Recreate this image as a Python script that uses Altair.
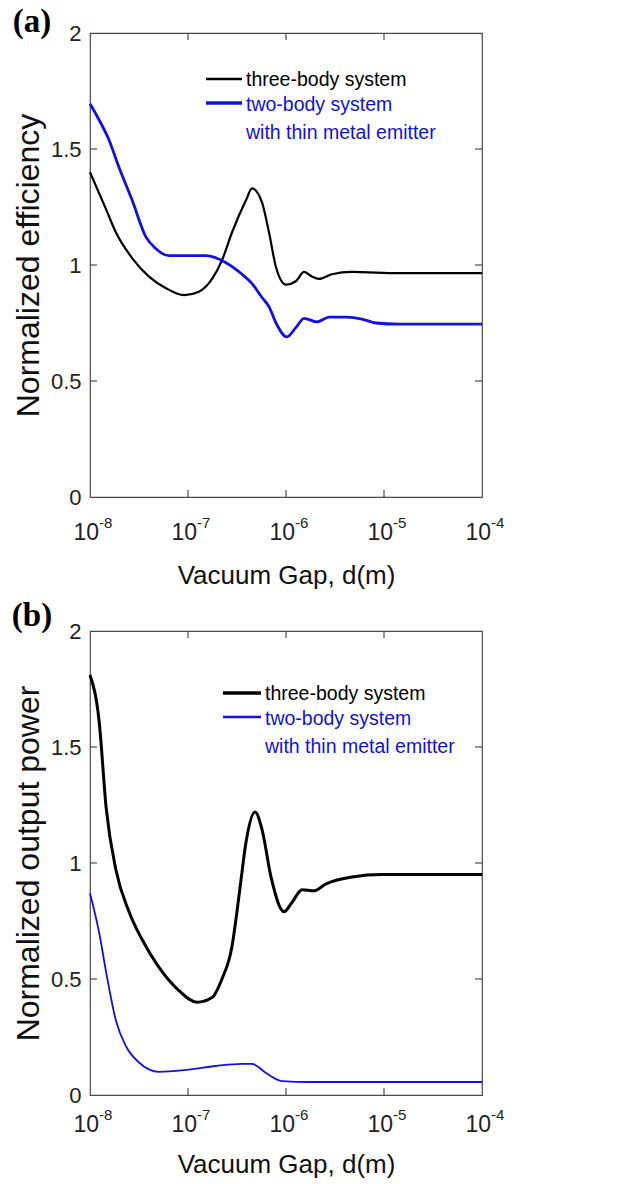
import altair as alt
import pandas as pd

# ---------------- data ----------------
# (a) normalized efficiency
gap_three_a = [1.0e-8, 1.46e-8, 1.84e-8, 2.69e-8, 4.0e-8, 5.97e-8, 9.1e-8, 1.29e-7,
               1.76e-7, 2.22e-7, 2.81e-7, 3.91e-7, 4.5e-7, 5.69e-7, 6.71e-7, 7.91e-7,
               1.0e-6, 1.26e-6, 1.53e-6, 1.84e-6, 2.17e-6, 2.94e-6, 4.71e-6, 1.42e-5, 1.0e-4]
eff_three_a = [1.40, 1.24, 1.14, 1.03, 0.95, 0.90, 0.87, 0.885,
               0.94, 1.02, 1.14, 1.28, 1.33, 1.27, 1.14, 0.99,
               0.915, 0.93, 0.97, 0.95, 0.94, 0.96, 0.97, 0.965, 0.965]

gap_two_a = [1.0e-8, 1.24e-8, 1.56e-8, 1.98e-8, 2.69e-8, 3.73e-8, 4.71e-8, 6.4e-8,
             1.53e-7, 2.44e-7, 3.56e-7, 4.5e-7, 5.69e-7, 6.71e-7, 7.91e-7, 1.02e-6,
             1.26e-6, 1.53e-6, 2.07e-6, 2.75e-6, 4.09e-6, 5.97e-6, 8.28e-6, 1.42e-5, 1.0e-4]
eff_two_a = [1.695, 1.625, 1.54, 1.42, 1.28, 1.12, 1.07, 1.04,
             1.04, 1.01, 0.96, 0.92, 0.86, 0.82, 0.75, 0.69,
             0.73, 0.77, 0.755, 0.775, 0.775, 0.767, 0.75, 0.745, 0.745]

# (b) normalized output power
gap_three_b = [1.0e-8, 1.24e-8, 1.46e-8, 1.84e-8, 2.5e-8, 3.4e-8, 5.06e-8, 8.09e-8,
               1.24e-7, 1.76e-7, 2.22e-7, 2.81e-7, 3.16e-7, 3.48e-7, 3.91e-7, 4.83e-7,
               5.69e-7, 7.03e-7, 9.55e-7, 1.15e-6, 1.46e-6, 1.93e-6, 2.56e-6, 4.71e-6,
               9.55e-6, 1.0e-4]
pow_three_b = [1.81, 1.61, 1.24, 0.97, 0.79, 0.67, 0.55, 0.45,
               0.40, 0.42, 0.50, 0.64, 0.79, 0.93, 1.09, 1.22,
               1.145, 0.94, 0.79, 0.83, 0.885, 0.88, 0.91, 0.94,
               0.95, 0.95]

gap_two_b = [1.0e-8, 1.24e-8, 1.46e-8, 1.84e-8, 2.33e-8, 3.16e-8, 5.06e-8, 9.55e-8,
             1.93e-7, 3.56e-7, 4.5e-7, 6.25e-7, 9.1e-7, 1.72e-6, 1.0e-4]
pow_two_b = [0.87, 0.70, 0.53, 0.32, 0.21, 0.14, 0.10, 0.108,
             0.125, 0.134, 0.134, 0.095, 0.06, 0.056, 0.056]

x_tick_values = [1e-8, 1e-7, 1e-6, 1e-5, 1e-4]
x_tick_base = ["10", "10", "10", "10", "10"]
x_tick_exp = ["-8", "-7", "-6", "-5", "-4"]
x_inner_ticks = [1e-7, 1e-6, 1e-5]
y_tick_values = [0, 0.5, 1, 1.5, 2]
y_inner_ticks = [0.5, 1, 1.5]

legend_labels = ["three-body system", "two-body system", "with thin metal emitter"]

# ---------------- style ----------------
W, H = 392, 464
FONT = "Liberation Sans"
SERIF = "Liberation Serif"
BLUE = "#1212e0"
FRAME = "#4a4a4a"

xscale = alt.Scale(type="log", domain=[1e-8, 1e-4], nice=False)
yscale = alt.Scale(domain=[0, 2], nice=False, zero=False)


def panel(gk, vk, gb, vb, ytitle, tag, tag_dy, wk, wb, xtitle_pad,
          base_dy, leg_x0, leg_y0, leg_w):
    dk = pd.DataFrame({"gap": gk, "val": vk})
    db = pd.DataFrame({"gap": gb, "val": vb})

    xaxis = alt.Axis(title="Vacuum Gap, d(m)", labels=False, ticks=False, domain=False,
                     grid=False, titleFont=FONT, titleFontSize=26, titleFontWeight="normal",
                     titleColor="#111", titlePadding=xtitle_pad, titleBaseline="alphabetic")
    yaxis = alt.Axis(title=ytitle, values=y_tick_values, format="~g", ticks=False,
                     domain=False, grid=False, labelFont=FONT, labelFontSize=22,
                     labelColor="#222", labelPadding=9, titleFont=FONT, titleFontSize=32,
                     titleFontWeight="normal", titleColor="#111", titlePadding=12,
                     titleBaseline="alphabetic")
    X = lambda: alt.X("gap:Q", scale=xscale, axis=xaxis)
    Y = lambda: alt.Y("val:Q", scale=yscale, axis=yaxis)

    black = alt.Chart(dk).mark_line(color="black", strokeWidth=wk, interpolate="monotone").encode(
        x=X(), y=Y())
    blue = alt.Chart(db).mark_line(color=BLUE, strokeWidth=wb, interpolate="monotone").encode(
        x=X(), y=Y())

    xt = pd.DataFrame({"gap": x_inner_ticks})
    yt = pd.DataFrame({"val": y_inner_ticks})
    tick_style = dict(color=FRAME, strokeWidth=1.2)
    xt_top = alt.Chart(xt).mark_rule(**tick_style).encode(
        x=X(), y=alt.value(0), y2=alt.value(7))
    xt_bot = alt.Chart(xt).mark_rule(**tick_style).encode(
        x=X(), y=alt.value(H), y2=alt.value(H - 7))
    yt_left = alt.Chart(yt).mark_rule(**tick_style).encode(
        y=Y(), x=alt.value(0), x2=alt.value(7))
    yt_right = alt.Chart(yt).mark_rule(**tick_style).encode(
        y=Y(), x=alt.value(W), x2=alt.value(W - 7))

    lab = pd.DataFrame({"gap": x_tick_values, "base": x_tick_base, "exp": x_tick_exp})
    lab_base = alt.Chart(lab).mark_text(font=FONT, fontSize=23, align="right", dx=9,
                                        baseline="alphabetic", color="#222").encode(
        x=X(), y=alt.value(H + base_dy), text="base:N")
    lab_exp = alt.Chart(lab).mark_text(font=FONT, fontSize=15, align="left", dx=9,
                                       baseline="alphabetic", color="#222").encode(
        x=X(), y=alt.value(H + base_dy - 12), text="exp:N")

    tag_text = alt.Chart(pd.DataFrame({"t": [tag]})).mark_text(
        font=SERIF, fontSize=33, fontWeight="bold", align="center", baseline="alphabetic",
        color="black").encode(x=alt.value(-58), y=alt.value(tag_dy), text="t:N")

    # legend
    ly = [leg_y0, leg_y0 + 25, leg_y0 + 53]
    leg_line_k = alt.Chart(pd.DataFrame({"k": [0]})).mark_rule(color="black", strokeWidth=wk + 0.5).encode(
        x=alt.value(leg_x0), x2=alt.value(leg_x0 + leg_w), y=alt.value(ly[0] - 1), y2=alt.value(ly[0] - 1))
    leg_line_b = alt.Chart(pd.DataFrame({"k": [0]})).mark_rule(color=BLUE, strokeWidth=wb + 0.5).encode(
        x=alt.value(leg_x0), x2=alt.value(leg_x0 + leg_w), y=alt.value(ly[1] - 2), y2=alt.value(ly[1] - 2))
    tx = leg_x0 + leg_w + 4
    leg_t = []
    for i, (lbl, col) in enumerate(zip(legend_labels, ["black", BLUE, BLUE])):
        leg_t.append(alt.Chart(pd.DataFrame({"t": [lbl]})).mark_text(
            font=FONT, fontSize=19.5, align="left", baseline="middle", color=col).encode(
            x=alt.value(tx), y=alt.value(ly[i]), text="t:N"))

    return alt.layer(black, blue, xt_top, xt_bot, yt_left, yt_right, lab_base, lab_exp,
                     tag_text, leg_line_k, leg_line_b, *leg_t).properties(width=W, height=H)


pa = panel(gap_three_a, eff_three_a, gap_two_a, eff_two_a, "Normalized efficiency",
           "(a)", -1, 2.2, 2.8, 86, 43, 116, 47, 36)
pb = panel(gap_three_b, pow_three_b, gap_two_b, pow_two_b, "Normalized output power",
           "(b)", -5, 3.0, 1.8, 77, 37, 133, 63, 38)

chart = alt.vconcat(pa, pb, spacing=10).properties(
    padding={"left": 11, "top": 5, "right": 5, "bottom": 5},
    background="white",
).configure_view(stroke=FRAME, strokeWidth=1.2)

chart.save("out.html", embed_options={"renderer": "svg", "actions": False})
